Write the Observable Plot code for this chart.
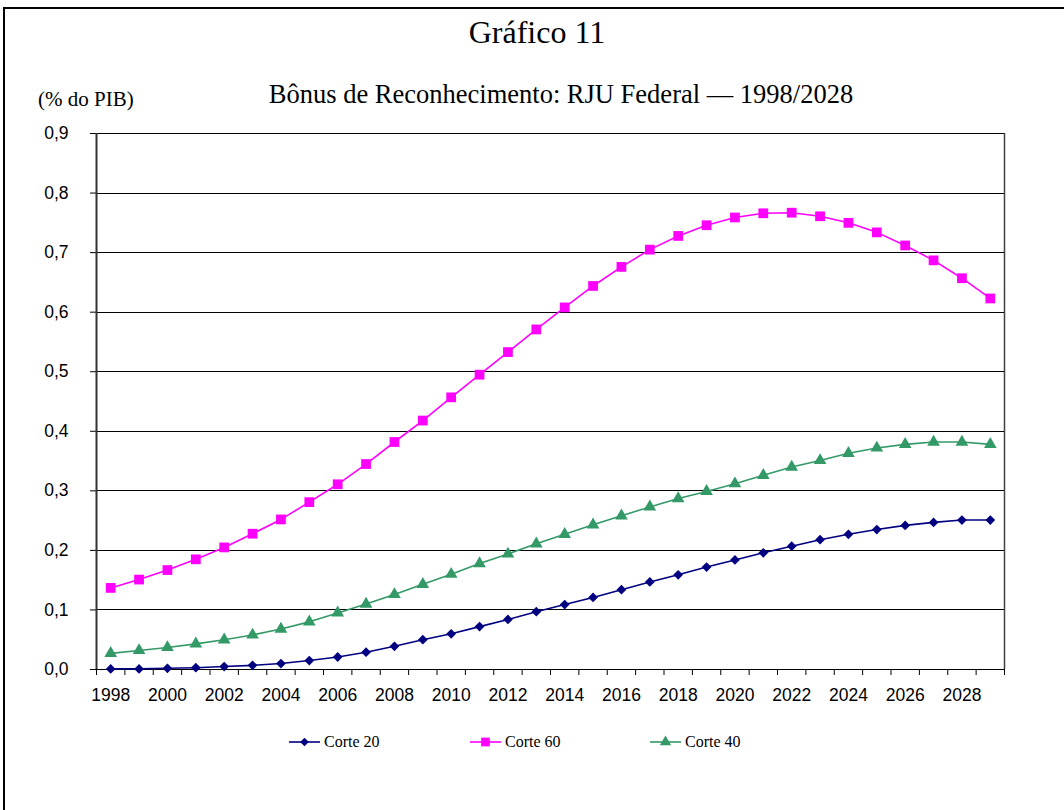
<!DOCTYPE html>
<html>
<head>
<meta charset="utf-8">
<script src="https://cdn.jsdelivr.net/npm/d3@7"></script>
<script src="https://cdn.jsdelivr.net/npm/@observablehq/plot@0.6"></script>
<style>
  html, body { margin: 0; padding: 0; background: #fff; overflow: hidden; }
  #page { position: relative; width: 1064px; height: 810px; overflow: hidden; background: #fff; }
  #frame { position: absolute; left: 3px; top: 7px; width: 2000px; height: 2000px;
           border-left: 2px solid #000; border-top: 2px solid #000; box-sizing: border-box; }
  .serif { position: absolute; font-family: "Liberation Serif", "Times New Roman", serif; color: #000;
           line-height: 1; white-space: nowrap; }
  #chart { position: absolute; left: 0; top: 0; }
  .leg { position: absolute; top: 733px; height: 18px; display: flex; align-items: center; }
  .leg span { font-family: "Liberation Serif", "Times New Roman", serif; font-size: 16px; color: #000; margin-left: 4px; }
</style>
</head>
<body>
<div id="page">
  <div id="frame"></div>
  <div class="serif" id="title" style="font-size:32px; left:537px; top:16px; transform:translateX(-50%);">Gráfico 11</div>
  <div class="serif" id="subtitle" style="font-size:26.5px; left:561px; top:81px; transform:translateX(-50%);">Bônus de Reconhecimento: RJU Federal — 1998/2028</div>
  <div class="serif" id="unit" style="font-size:21px; left:38px; top:89px;">(% do PIB)</div>
  <div id="chart"></div>
  <div id="legend"></div>
</div>
<script>
// Years shown on the category axis (one point per year)
const years = [1998, 1999, 2000, 2001, 2002, 2003, 2004, 2005, 2006, 2007,
               2008, 2009, 2010, 2011, 2012, 2013, 2014, 2015, 2016, 2017,
               2018, 2019, 2020, 2021, 2022, 2023, 2024, 2025, 2026, 2027,
               2028, 2029];

// Bônus de reconhecimento, % do PIB
const corte20 = [0.001, 0.001, 0.002, 0.003, 0.005, 0.007, 0.010, 0.015, 0.021, 0.029,
                 0.039, 0.050, 0.060, 0.072, 0.084, 0.097, 0.109, 0.121, 0.134, 0.147,
                 0.159, 0.172, 0.184, 0.196, 0.207, 0.218, 0.227, 0.235, 0.242, 0.247,
                 0.251, 0.251];
const corte60 = [0.137, 0.151, 0.167, 0.185, 0.205, 0.228, 0.252, 0.281, 0.311, 0.345,
                 0.382, 0.418, 0.457, 0.495, 0.533, 0.571, 0.608, 0.644, 0.676, 0.705,
                 0.728, 0.746, 0.759, 0.766, 0.767, 0.761, 0.750, 0.734, 0.712, 0.687,
                 0.657, 0.623];
const corte40 = [0.027, 0.032, 0.037, 0.043, 0.050, 0.058, 0.068, 0.080, 0.095, 0.110,
                 0.126, 0.143, 0.160, 0.178, 0.194, 0.211, 0.227, 0.243, 0.258, 0.273,
                 0.287, 0.299, 0.312, 0.326, 0.340, 0.351, 0.363, 0.372, 0.378, 0.382,
                 0.382, 0.378];

const seriesNames = ["Corte 20", "Corte 60", "Corte 40"];
const seriesValues = [corte20, corte60, corte40];
const seriesColors = ["#000080", "#ff00ff", "#339966"];
const seriesSymbols = ["diamond2", "square", "triangle"];
const seriesRadius = [4.4, 5.5, 4.7];

// Axis labels
const yTicks = [0, 0.1, 0.2, 0.3, 0.4, 0.5, 0.6, 0.7, 0.8, 0.9];
const xLabels = [1998, 2000, 2002, 2004, 2006, 2008, 2010, 2012, 2014, 2016,
                 2018, 2020, 2022, 2024, 2026, 2028];

// Category boundaries (tick marks sit between the years)
const boundaries = years.map(y => y - 0.5).concat([years[years.length - 1] + 0.5]);
const commaFormat = d => d3.format(".1f")(d).replace(".", ",");

const series = seriesNames.map((name, s) => ({
  name,
  color: seriesColors[s],
  symbol: seriesSymbols[s],
  r: seriesRadius[s],
  rows: years.map((year, i) => ({ year, value: seriesValues[s][i] }))
}));

const tickFont = "'Liberation Sans', Arial, sans-serif";

const marks = [
  Plot.ruleY(yTicks, { stroke: "#000", strokeWidth: 1, shapeRendering: "crispEdges" }),
  Plot.ruleX([boundaries[boundaries.length - 1]], { stroke: "#404040", strokeWidth: 1.5 }),
  Plot.axisY({ ticks: yTicks, tickSize: 6, tickPadding: 22, tickFormat: commaFormat,
               label: null, fontSize: 17.5, fontFamily: tickFont, stroke: "#000" }),
  Plot.ruleX(boundaries, { y1: 0, y2: 0, insetBottom: -6, stroke: "#000", strokeWidth: 1 }),
  Plot.ruleX([boundaries[0]], { stroke: "#333", strokeWidth: 2 }),
  Plot.axisX({ ticks: xLabels, tickSize: 0, tickPadding: 19, tickFormat: d => String(d),
               label: null, fontSize: 17.5, fontFamily: tickFont })
];

for (const s of series) {
  marks.push(Plot.line(s.rows, { x: "year", y: "value", stroke: s.color, strokeWidth: 1.6 }));
  marks.push(Plot.dot(s.rows, { x: "year", y: "value", symbol: s.symbol, r: s.r,
                                fill: s.color, stroke: "none" }));
}

const chart = Plot.plot({
  width: 1064,
  height: 810,
  marginLeft: 96,
  marginRight: 60,
  marginTop: 133,
  marginBottom: 141,
  x: { domain: [boundaries[0], boundaries[boundaries.length - 1]], axis: null, label: null },
  y: { domain: [0, 0.9], axis: null, label: null },
  style: { fontFamily: tickFont, fontSize: "17.5px", color: "#000", background: "transparent" },
  marks
});
document.getElementById("chart").appendChild(chart);

// Legend entries: short line with the series marker, then its name
const legendLeft = [289, 470, 650];
const symbolTypes = { diamond2: d3.symbolDiamond2, square: d3.symbolSquare, triangle: d3.symbolTriangle };
const legend = document.getElementById("legend");
series.forEach((s, i) => {
  const item = document.createElement("div");
  item.className = "leg";
  item.style.left = legendLeft[i] + "px";
  const sym = d3.symbol(symbolTypes[s.symbol], Math.PI * s.r * s.r * 0.8)();
  item.innerHTML =
    `<svg width="31" height="18" style="overflow:visible">
       <line x1="0" x2="31" y1="9" y2="9" stroke="${s.color}" stroke-width="1.6"></line>
       <path d="${sym}" transform="translate(15.5,9)" fill="${s.color}"></path>
     </svg><span>${s.name}</span>`;
  legend.appendChild(item);
});
</script>
</body>
</html>
